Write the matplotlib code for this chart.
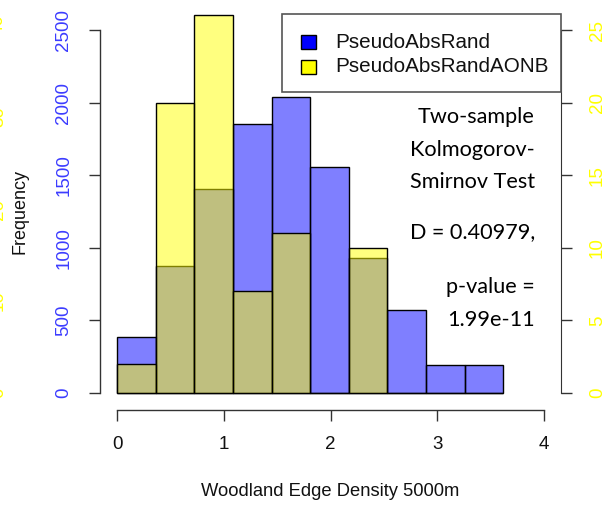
import matplotlib
matplotlib.use("Agg")
import matplotlib.pyplot as plt
from matplotlib.patches import Rectangle

# ---- data ----
bin_edges = [0.0, 0.362, 0.724, 1.086, 1.448, 1.81, 2.172, 2.534, 2.896, 3.258, 3.62]
blue_counts = [385, 875, 1405, 1855, 2040, 1555, 930, 575, 190, 190]
yellow_counts = [2, 20, 26, 7, 11, 0, 10, 0, 0, 0]
left_ticks = [0, 500, 1000, 1500, 2000, 2500]
right_ticks = [0, 5, 10, 15, 20, 25]
outer_ticks = [0, 10, 20, 30, 40]
x_ticks = [0, 1, 2, 3, 4]
series_names = ["PseudoAbsRand", "PseudoAbsRandAONB"]
series_colors = ["blue", "yellow"]
ks_text = ["Two-sample", "Kolmogorov-", "Smirnov Test", "D = 0.40979,", "p-value =", "1.99e-11"]

W, H = 611, 508
fig = plt.figure(figsize=(W / 100, H / 100), dpi=100)
left, right, bottom, top = 100, 561, 410, 14
pos = [left / W, (H - bottom) / H, (right - left) / W, (bottom - top) / H]


def fx(px):
    return px / W


def fy(py):
    return 1 - py / H


AX_COL = "#333333"
FS = 13.5
ARIAL = "Liberation Sans"

ax = fig.add_axes(pos)
scale = 363 / 2500.0
ax.set_ylim(-(bottom - 393) / scale, (393 - top) / scale)
ax.set_xlim(-0.16, 4.16)

widths = [bin_edges[i + 1] - bin_edges[i] for i in range(len(bin_edges) - 1)]
ax.bar(bin_edges[:-1], blue_counts, width=widths, align="edge",
       facecolor=(0, 0, 1, 0.5), edgecolor="black", linewidth=1.0, zorder=2)

for s in ["top", "right"]:
    ax.spines[s].set_visible(False)
ax.spines["left"].set_bounds(0, 2500)
ax.spines["bottom"].set_bounds(0, 4)
for s in ["left", "bottom"]:
    ax.spines[s].set_color(AX_COL)
    ax.spines[s].set_linewidth(1.0)
ax.set_yticks(left_ticks)
ax.set_yticklabels([str(t) for t in left_ticks], rotation=90, va="center",
                   color="#3c3cff", fontsize=FS, family=ARIAL)
ax.set_xticks(x_ticks)
ax.set_xticklabels([str(t) for t in x_ticks], fontsize=FS, family=ARIAL, color="#111111")
ax.tick_params(axis="y", length=8, width=1, color=AX_COL, pad=12)
ax.tick_params(axis="x", length=8, width=1, color=AX_COL, pad=11)

# yellow histogram on right axis
ax2 = ax.twinx()
ax2.set_ylim(-(bottom - 393) / scale / 100, (393 - top) / scale / 100)
ax2.bar(bin_edges[:-1], yellow_counts, width=widths, align="edge",
        facecolor=(1, 1, 0, 0.5), edgecolor="black", linewidth=1.0, zorder=2)
for s in ["top", "left", "bottom"]:
    ax2.spines[s].set_visible(False)
ax2.spines["right"].set_bounds(0, 25)
ax2.spines["right"].set_color(AX_COL)
ax2.set_yticks(right_ticks)
ax2.set_yticklabels([str(t) for t in right_ticks], rotation=90, va="center",
                    color="#ffff00", fontsize=FS, family=ARIAL)
ax2.tick_params(axis="y", length=8, width=1, color=AX_COL, pad=12)

# outer (cut-off) yellow axis labels at far left
ax3 = ax.twinx()
s3 = 368 / 40.0
ax3.set_ylim(-(bottom - 393) / s3, (393 - top) / s3)
for s in ax3.spines.values():
    s.set_visible(False)
ax3.yaxis.tick_left()
ax3.set_yticks(outer_ticks)
ax3.set_yticklabels([str(t) for t in outer_ticks], rotation=90, va="center",
                    color="#ffff00", fontsize=FS, family=ARIAL)
ax3.tick_params(axis="y", length=0, pad=67)

fig.text(fx(20), fy(212), "Frequency", rotation=90, ha="center", va="center",
         fontsize=FS - 0.5, family=ARIAL, color="#111111")
fig.text(fx(330), fy(492), "Woodland Edge Density 5000m", ha="center", va="center",
         fontsize=FS - 0.3, family=ARIAL, color="#111111")

# legend drawn manually (R style)
fig.patches.append(Rectangle((fx(282), fy(92)), fx(561) - fx(282), fy(14) - fy(92),
                             transform=fig.transFigure, facecolor="white",
                             edgecolor="#555555", linewidth=1.2, zorder=5))
for name, col, yc in zip(series_names, series_colors, [42, 67]):
    fig.patches.append(Rectangle((fx(301), fy(yc + 7)), fx(15), 14 / H,
                                 transform=fig.transFigure, facecolor=col,
                                 edgecolor="black", linewidth=1.0, zorder=6))
    fig.text(fx(335), fy(yc), name, ha="left", va="center", fontsize=14.9,
             family=ARIAL, color="#111111", zorder=7)

ys = [117, 150, 182, 232, 287, 320]
for txt, y in zip(ks_text, ys):
    fig.text(fx(535), fy(y), txt, ha="right", va="center", fontsize=15.6,
             family="Lato", color="black")

fig.savefig("out.png", dpi=100)
